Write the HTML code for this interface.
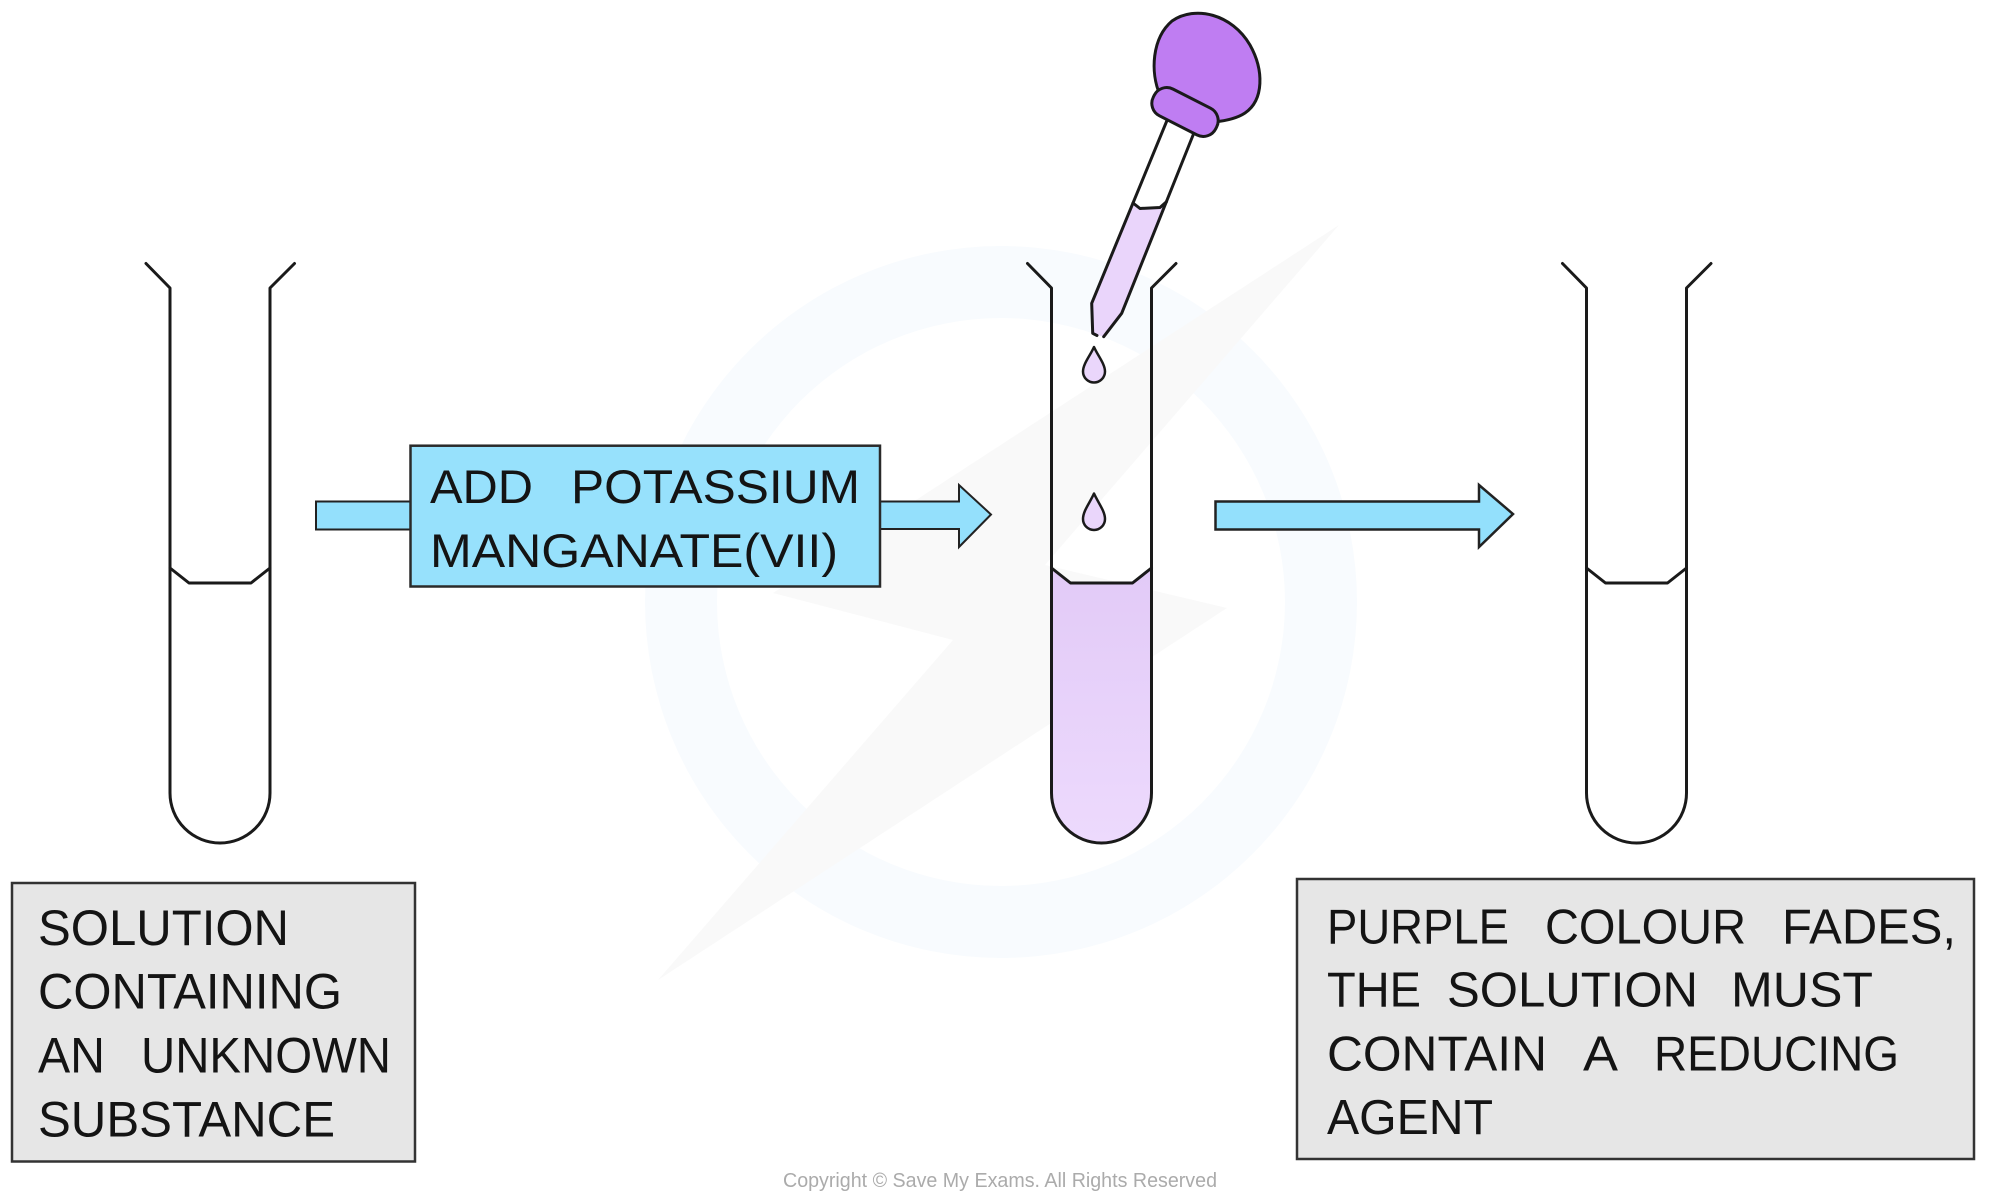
<!DOCTYPE html>
<html>
<head>
<meta charset="utf-8">
<style>
  html,body{margin:0;padding:0;background:#ffffff;}
  svg{display:block;}
  .t{font-family:"Liberation Sans",Arial,sans-serif;fill:#141414;}
</style>
</head>
<body>
<svg xmlns="http://www.w3.org/2000/svg" width="2000" height="1202" viewBox="0 0 2000 1202">
  <defs>
    <linearGradient id="liq" x1="0" y1="0" x2="0" y2="1">
      <stop offset="0" stop-color="#e2caf7"/>
      <stop offset="1" stop-color="#eddafd"/>
    </linearGradient>
  </defs>
  <rect x="0" y="0" width="2000" height="1202" fill="#ffffff"/>

  <!-- faint watermark -->
  <g>
    <path d="M1001,246 A356,356 0 1 0 1001,958 A356,356 0 1 0 1001,246 Z M1001,318 A284,284 0 1 1 1001,886 A284,284 0 1 1 1001,318 Z" fill="#f8fbfe" fill-rule="evenodd"/>
    <polygon points="1339,225 773,593 953,640 658,980 1227,608 1045,565" fill="#f9f9f9"/>
  </g>

  <!-- Tube 1 -->
  <g fill="none" stroke="#1a1a1a" stroke-width="3" stroke-linejoin="round" stroke-linecap="round">
    <path d="M146,263.5 L170,288 L170,793 A50,50 0 0 0 270,793 L270,288 L294.5,263.5"/>
    <path d="M170,568 L189,583 L251,583 L270,568"/>
  </g>

  <!-- Tube 2 liquid -->
  <path d="M1051.5,568 L1070.5,583 L1132.5,583 L1151.5,568 L1151.5,793 A50,50 0 0 1 1051.5,793 Z" fill="url(#liq)"/>
  <g fill="none" stroke="#1a1a1a" stroke-width="3" stroke-linejoin="round" stroke-linecap="round">
    <path d="M1027.5,263.5 L1051.5,288 L1051.5,793 A50,50 0 0 0 1151.5,793 L1151.5,288 L1176,263.5"/>
    <path d="M1051.5,568 L1070.5,583 L1132.5,583 L1151.5,568"/>
  </g>

  <!-- Tube 3 -->
  <g fill="none" stroke="#1a1a1a" stroke-width="3" stroke-linejoin="round" stroke-linecap="round">
    <path d="M1562.5,263.5 L1586.5,288 L1586.5,793 A50,50 0 0 0 1686.5,793 L1686.5,288 L1711,263.5"/>
    <path d="M1586.5,568 L1605.5,583 L1667.5,583 L1686.5,568"/>
  </g>

  <!-- Drops -->
  <g fill="#ead6fb" stroke="#1a1a1a" stroke-width="2.5" stroke-linejoin="round">
    <path d="M1094,347 C1090,356 1083,364 1083,371.5 A11,11 0 0 0 1105,371.5 C1105,364 1098,356 1094,347 Z"/>
    <path d="M1094,493.5 C1090,502.5 1083,511 1083,519 A11,11 0 0 0 1105,519 C1105,511 1098,502.5 1094,493.5 Z"/>
  </g>

  <!-- Dropper tube -->
  <polygon points="1168,115 1196,128 1121.7,313.3 1103.7,336.7 1092.7,333.3 1091.7,303.3" fill="#ffffff"/>
  <polygon points="1133,203 1140,208.5 1160,207.5 1166.5,201.7 1121.7,313.3 1103.7,336.7 1092.7,333.3 1091.7,303.3" fill="#ead5fb"/>
  <g fill="none" stroke="#1a1a1a" stroke-width="3" stroke-linejoin="round" stroke-linecap="round">
    <path d="M1168,118 L1091.7,303.3 L1092.7,333.3 L1097,335.5"/>
    <path d="M1195.5,129 L1121.7,313.3 L1103.7,336.7"/>
    <path d="M1133,203 L1140,208.5 L1160,207.5 L1166.5,201.7"/>
  </g>

  <!-- Bulb -->
  <path d="M1160,95 C1150,72 1152,38 1172,21 C1195,5 1232,14 1250,45 C1264,70 1264,100 1245,113 C1236,119 1224,121 1214,122 Z" fill="#bf7df2" stroke="#1a1a1a" stroke-width="3" stroke-linejoin="round"/>
  <!-- Collar -->
  <rect x="1150" y="97" width="70" height="30" rx="14" ry="14" transform="rotate(27 1185 112)" fill="#bf7df2" stroke="#1a1a1a" stroke-width="3"/>

  <!-- Arrow 1 -->
  <rect x="316" y="501.5" width="95" height="28" fill="#94e0fc" stroke="#222" stroke-width="2"/>
  <polygon points="878,501.5 959,501.5 959,485 991,514.5 959,547 959,529 878,529" fill="#94e0fc" stroke="#222" stroke-width="2" stroke-linejoin="miter"/>
  <rect x="410.5" y="445.7" width="469.5" height="140.8" fill="#97e1fc" stroke="#2a2a2a" stroke-width="2.5"/>
  <text class="t" x="430" y="503" font-size="47" textLength="103" lengthAdjust="spacingAndGlyphs">ADD</text>
  <text class="t" x="571" y="503" font-size="47" textLength="289" lengthAdjust="spacingAndGlyphs">POTASSIUM</text>
  <text class="t" x="430" y="567" font-size="47" textLength="408" lengthAdjust="spacingAndGlyphs">MANGANATE(VII)</text>

  <!-- Arrow 2 -->
  <polygon points="1215.5,501.5 1479,501.5 1479,485 1513,514 1479,547 1479,529.5 1215.5,529.5" fill="#93e0fc" stroke="#222" stroke-width="2.5" stroke-linejoin="miter"/>

  <!-- Box 1 -->
  <rect x="12" y="883" width="403" height="278.5" fill="#e6e6e6" stroke="#333" stroke-width="2.5"/>
  <text class="t" x="38" y="945" font-size="50" textLength="251" lengthAdjust="spacingAndGlyphs">SOLUTION</text>
  <text class="t" x="38" y="1008.5" font-size="50" textLength="304" lengthAdjust="spacingAndGlyphs">CONTAINING</text>
  <text class="t" x="38" y="1072.5" font-size="50" textLength="67" lengthAdjust="spacingAndGlyphs">AN</text>
  <text class="t" x="141" y="1072.5" font-size="50" textLength="250" lengthAdjust="spacingAndGlyphs">UNKNOWN</text>
  <text class="t" x="38" y="1136.5" font-size="50" textLength="297" lengthAdjust="spacingAndGlyphs">SUBSTANCE</text>

  <!-- Box 3 -->
  <rect x="1297" y="879" width="677" height="280" fill="#e6e6e6" stroke="#333" stroke-width="2.5"/>
  <text class="t" x="1327" y="943.3" font-size="49" textLength="182" lengthAdjust="spacingAndGlyphs">PURPLE</text>
  <text class="t" x="1545" y="943.3" font-size="49" textLength="201" lengthAdjust="spacingAndGlyphs">COLOUR</text>
  <text class="t" x="1782" y="943.3" font-size="49" textLength="174" lengthAdjust="spacingAndGlyphs">FADES,</text>
  <text class="t" x="1327" y="1006.7" font-size="49" textLength="94" lengthAdjust="spacingAndGlyphs">THE</text>
  <text class="t" x="1447" y="1006.7" font-size="49" textLength="251" lengthAdjust="spacingAndGlyphs">SOLUTION</text>
  <text class="t" x="1731" y="1006.7" font-size="49" textLength="142" lengthAdjust="spacingAndGlyphs">MUST</text>
  <text class="t" x="1327" y="1070.7" font-size="49" textLength="220" lengthAdjust="spacingAndGlyphs">CONTAIN</text>
  <text class="t" x="1583" y="1070.7" font-size="49" textLength="35" lengthAdjust="spacingAndGlyphs">A</text>
  <text class="t" x="1654" y="1070.7" font-size="49" textLength="245" lengthAdjust="spacingAndGlyphs">REDUCING</text>
  <text class="t" x="1327" y="1134" font-size="49" textLength="166" lengthAdjust="spacingAndGlyphs">AGENT</text>

  <!-- Copyright -->
  <text x="783" y="1187" font-family="'Liberation Sans',Arial,sans-serif" font-size="20" fill="#ababab" textLength="434" lengthAdjust="spacingAndGlyphs">Copyright © Save My Exams. All Rights Reserved</text>
</svg>
</body>
</html>
